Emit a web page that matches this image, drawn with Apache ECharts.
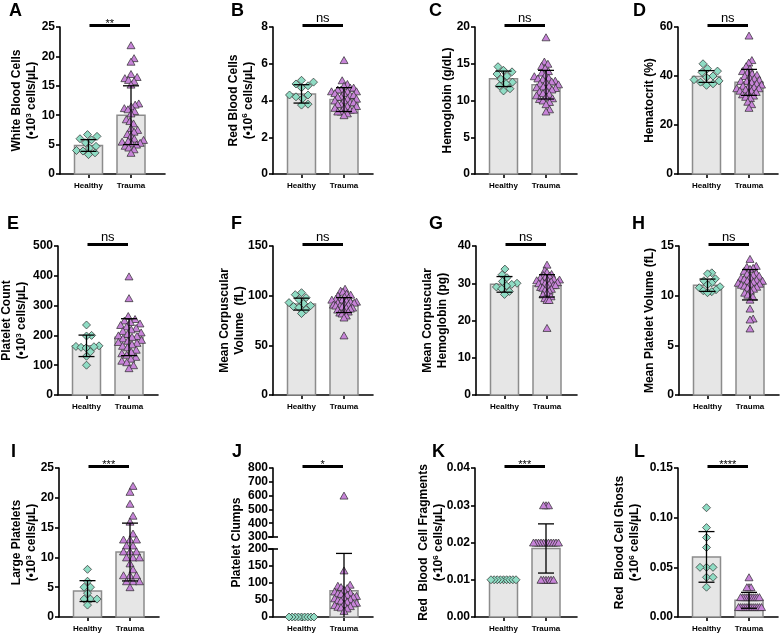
<!DOCTYPE html>
<html>
<head>
<meta charset="utf-8">
<script src="https://cdn.jsdelivr.net/npm/echarts@6/dist/echarts.min.js"></script>
<style>html,body{margin:0;padding:0;background:#fff}#main{width:781px;height:637px}</style>
</head>
<body>
<div id="main"></div>
<script>
var groups = ['Healthy', 'Trauma'];

// A white blood cells
var wbcHealthy = [6.7, 6.4, 6.0, 5.8, 5.3, 4.7, 4.4, 4.0, 3.9, 3.6, 3.3];
var wbcTrauma = [21.9, 19.7, 19.1, 17.0, 16.5, 16.3, 16.0, 15.8, 15.2, 12.0, 11.8, 11.5, 11.2, 11.0, 10.7, 10.3, 9.3, 9.0, 8.6, 7.8, 7.5, 7.2, 6.8, 6.5, 6.0, 5.8, 5.6, 5.5, 5.3, 5.2, 5.0, 4.8, 4.5, 4.2, 3.6];
var wbcMean = [4.85, 10.0];
var wbcSd = [1.0, 5.0];
var wbcAxis = [0, 25, 5];

// B red blood cells
var rbcHealthy = [5.1, 5.0, 4.9, 4.8, 4.7, 4.3, 4.3, 4.2, 4.1, 3.8, 3.75];
var rbcTrauma = [6.2, 5.1, 4.9, 4.8, 4.7, 4.7, 4.6, 4.6, 4.5, 4.5, 4.5, 4.4, 4.4, 4.3, 4.3, 4.2, 4.2, 4.1, 4.1, 4.0, 4.0, 3.9, 3.9, 3.8, 3.8, 3.7, 3.7, 3.6, 3.6, 3.5, 3.5, 3.4, 3.4, 3.3, 3.2];
var rbcMean = [4.36, 4.05];
var rbcSd = [0.5, 0.65];
var rbcAxis = [0, 8, 2];

// C hemoglobin
var hgbHealthy = [14.6, 14.1, 13.9, 13.6, 13.3, 12.9, 12.5, 12.3, 12.0, 11.6, 11.3];
var hgbTrauma = [18.6, 15.3, 15.0, 14.7, 14.4, 14.0, 13.8, 13.5, 13.3, 13.1, 13.0, 12.9, 12.7, 12.6, 12.5, 12.3, 12.2, 12.0, 11.9, 11.8, 11.7, 11.5, 11.4, 11.2, 11.0, 10.9, 10.7, 10.5, 10.3, 10.2, 10.0, 9.8, 9.5, 8.8, 8.5];
var hgbMean = [12.95, 12.15];
var hgbSd = [1.05, 1.95];
var hgbAxis = [0, 20, 5];

// D hematocrit
var hctHealthy = [45, 43, 42, 41.5, 40, 39.5, 38.5, 38, 37.5, 36.8, 36.2];
var hctTrauma = [56.5, 46.5, 45.5, 44, 43, 42, 41.5, 41, 40.5, 40, 39.5, 39, 38.5, 38, 38, 37.5, 37, 36.5, 36, 36, 35.5, 35, 35, 34.5, 34, 34, 33.5, 33, 32.5, 32, 31.5, 31, 29.5, 28.5, 27];
var hctMean = [39.8, 37.4];
var hctSd = [2.4, 5.3];
var hctAxis = [0, 60, 20];

// E platelet count
var pltHealthy = [235, 200, 198, 165, 163, 162, 160, 158, 145, 130, 100];
var pltTrauma = [398, 325, 265, 255, 250, 245, 240, 235, 230, 225, 220, 215, 210, 205, 200, 198, 195, 190, 185, 182, 178, 175, 170, 165, 160, 152, 145, 140, 135, 128, 122, 115, 110, 100, 90];
var pltMean = [165, 194];
var pltSd = [36, 62];
var pltAxis = [0, 500, 100];

// F mean corpuscular volume
var mcvHealthy = [103, 101, 98, 96, 93, 92, 90, 89, 88, 86, 82];
var mcvTrauma = [107, 105, 104, 102, 101, 100, 99, 98, 97, 97, 96, 96, 95, 94, 94, 93, 93, 92, 91, 91, 90, 90, 89, 88, 88, 87, 86, 85, 84, 83, 82, 80, 78, 60];
var mcvMean = [91.5, 90.5];
var mcvSd = [6, 7.5];
var mcvAxis = [0, 150, 50];

// G mean corpuscular hemoglobin
var mchHealthy = [33.8, 32.3, 31.5, 30.5, 30.0, 29.7, 29.3, 29.0, 28.5, 27.8, 27.0];
var mchTrauma = [35, 33.5, 33, 32.5, 32.2, 32, 31.7, 31.5, 31.2, 31, 31, 30.8, 30.5, 30.5, 30.3, 30, 30, 29.8, 29.5, 29.5, 29.3, 29, 28.8, 28.5, 28.2, 28, 27.5, 27, 26.5, 26, 25.5, 25.5, 18];
var mchMean = [29.7, 29.3];
var mchSd = [2.1, 3.0];
var mchAxis = [0, 40, 10];

// H mean platelet volume
var mpvHealthy = [12.3, 12.2, 11.7, 11.5, 11.3, 11.1, 10.9, 10.8, 10.6, 10.5, 10.4, 10.3];
var mpvTrauma = [13.7, 13.0, 12.9, 12.8, 12.7, 12.5, 12.3, 12.2, 12.1, 12.0, 11.9, 11.8, 11.7, 11.6, 11.5, 11.5, 11.4, 11.3, 11.2, 11.2, 11.1, 11.0, 10.9, 10.8, 10.7, 10.5, 10.3, 10.1, 9.9, 9.6, 8.7, 7.7, 7.6, 6.7];
var mpvMean = [11.05, 11.1];
var mpvSd = [0.62, 1.53];
var mpvAxis = [0, 15, 5];

// I large platelets
var lpHealthy = [8, 6, 5, 5, 4, 3, 3, 3, 2];
var lpTrauma = [22, 21, 19, 17, 16, 14, 13, 13, 13, 12, 12, 11, 11, 11, 10, 10, 10, 9, 8, 7, 7, 7, 6, 6, 6, 5];
var lpMean = [4.35, 10.9];
var lpSd = [1.75, 4.85];
var lpAxis = [0, 25, 5];

// J platelet clumps (broken axis)
var clumpHealthy = [0, 0, 0, 0, 0, 0, 0, 0, 0];
var clumpTrauma = [600, 137, 95, 92, 88, 85, 80, 75, 72, 70, 68, 65, 62, 60, 58, 55, 52, 50, 48, 45, 42, 40, 38, 35, 32, 30, 28, 25, 18];
var clumpMean = [0, 77];
var clumpSd = [0, 110];
var clumpAxisLow = [0, 200, 50];
var clumpAxisHigh = [300, 800, 100];

// K red blood cell fragments
var fragHealthy = [0.01, 0.01, 0.01, 0.01, 0.01, 0.01, 0.01, 0.01, 0.01];
var fragTrauma = [0.03, 0.03, 0.03, 0.02, 0.02, 0.02, 0.02, 0.02, 0.02, 0.02, 0.02, 0.02, 0.02, 0.02, 0.01, 0.01, 0.01, 0.01, 0.01, 0.01];
var fragMean = [0.01, 0.0184];
var fragSd = [0, 0.0066];
var fragAxis = [0, 0.04, 0.01];

// L red blood cell ghosts
var ghostHealthy = [0.11, 0.09, 0.08, 0.07, 0.05, 0.05, 0.05, 0.04, 0.04, 0.03];
var ghostTrauma = [0.04, 0.03, 0.03, 0.03, 0.02, 0.02, 0.02, 0.02, 0.02, 0.02, 0.02, 0.02, 0.02, 0.02, 0.01, 0.01, 0.01, 0.01, 0.01, 0.01, 0.01, 0.01, 0.01, 0.01, 0.01, 0.01];
var ghostMean = [0.0605, 0.0168];
var ghostSd = [0.0255, 0.008];
var ghostAxis = [0, 0.15, 0.05];

var FONT = 'Liberation Sans';
var GAP = 42.5, C0 = 28.5, BARW = 28, CAP = 8, LIM = 12.5;
var HCOL = '#8fdcc4', TCOL = '#c784d8';

var option = {animation: false, backgroundColor: '#fff', grid: [], xAxis: [], yAxis: [], series: [], graphic: []};

function units(e) { return '\n{t|(•10}{s|' + e + '}{t| cells/µL)}'; }

// simple beeswarm: horizontal pixel offsets so dots don't pile up
function swarm(vals, ppu) {
  var d = 6.5, step = 0.5, placed = [], out = [];
  var order = vals.map(function(v, i) { return i; }).sort(function(a, b) { return vals[a] - vals[b]; });
  order.forEach(function(i) {
    var y = vals[i] * ppu, x = 0;
    for (var k = 0; k < 600; k++) {
      x = (k % 2 ? 1 : -1) * Math.ceil(k / 2) * step;
      var ok = placed.every(function(p) { var dx = p[0] - x, dy = p[1] - y; return dx * dx + dy * dy >= d * d; });
      if (ok) break;
    }
    placed.push([x, y]);
    out[i] = x;
  });
  var m = Math.max.apply(null, out.map(Math.abs));
  var f = m > LIM ? LIM / m : 1;
  return out.map(function(x) { return x * f; });
}

function addGrid(left, top, width, height) {
  option.grid.push({left: left, top: top, width: width, height: height, outerBoundsMode: 'none'});
  return option.grid.length - 1;
}

function addX(gi, width, show) {
  var ls = {color: '#000', width: 1.6};
  option.xAxis.push({
    type: 'value', gridIndex: gi, min: -C0 / GAP, max: (width - C0) / GAP,
    axisLine: {show: show, onZero: false, lineStyle: ls},
    axisTick: {show: show, length: 4, customValues: [0, 1], lineStyle: ls},
    axisLabel: {show: show, customValues: [0, 1], margin: 8, color: '#000', fontFamily: FONT, fontWeight: 'bold', fontSize: 8,
      formatter: function(v) { return groups[Math.round(v)]; }},
    splitLine: {show: false}
  });
}

function addY(gi, ax, dec, name, gap, show) {
  var ls = {color: '#000', width: 1.6};
  option.yAxis.push({
    type: 'value', gridIndex: gi, min: ax[0], max: ax[1], interval: ax[2],
    axisLine: {show: show, onZero: false, lineStyle: ls},
    axisTick: {show: show, length: 4, lineStyle: ls},
    axisLabel: {show: show, margin: 5, color: '#000', fontFamily: FONT, fontWeight: 'bold', fontSize: 12,
      formatter: function(v) { return v.toFixed(dec); }},
    splitLine: {show: false},
    name: name, nameLocation: 'middle', nameGap: gap, nameRotate: 90, nameMoveOverlap: false,
    nameTextStyle: {rich: {
      t: {fontFamily: FONT, fontSize: 12, fontWeight: 'bold', color: '#000', lineHeight: 15},
      s: {fontFamily: FONT, fontSize: 8, fontWeight: 'bold', color: '#000', lineHeight: 9, verticalAlign: 'top'}
    }}
  });
}

function addBars(gi, mean) {
  option.series.push({
    type: 'custom', xAxisIndex: gi, yAxisIndex: gi, z: 1,
    data: mean.map(function(m, i) { return [i, m]; }),
    renderItem: function(params, api) {
      var top = api.coord([api.value(0), api.value(1)]);
      var base = api.coord([api.value(0), 0]);
      return {type: 'rect', shape: {x: top[0] - BARW / 2, y: top[1], width: BARW, height: base[1] - top[1]},
        style: {fill: '#e6e6e6', stroke: '#8c8c8c', lineWidth: 1.5}};
    }
  });
}

function addDots(gi, vals, cat, ppu) {
  var off = swarm(vals, ppu);
  option.series.push({
    type: 'scatter', xAxisIndex: gi, yAxisIndex: gi, z: 3,
    symbol: cat ? 'triangle' : 'diamond', symbolSize: cat ? [8, 7] : 8,
    itemStyle: {color: cat ? TCOL : HCOL, borderColor: '#2a2a2a', borderWidth: 0.7, opacity: 1},
    data: vals.map(function(v, i) { return [cat + off[i] / GAP, v]; })
  });
}

function addErr(gi, mean, sd, lo) {
  option.series.push({
    type: 'custom', xAxisIndex: gi, yAxisIndex: gi, z: 4,
    data: mean.map(function(m, i) { return [i, m, sd[i]]; }),
    renderItem: function(params, api) {
      var x = api.value(0), m = api.value(1), s = api.value(2);
      if (!s) return;
      var st = {stroke: '#000', lineWidth: 1.3};
      var a = api.coord([x, m + s]), b = api.coord([x, Math.max(m - s, lo)]);
      var kids = [
        {type: 'line', shape: {x1: a[0], y1: a[1], x2: b[0], y2: b[1]}, style: st},
        {type: 'line', shape: {x1: a[0] - CAP, y1: a[1], x2: a[0] + CAP, y2: a[1]}, style: st}
      ];
      if (m - s >= lo) kids.push({type: 'line', shape: {x1: b[0] - CAP, y1: b[1], x2: b[0] + CAP, y2: b[1]}, style: st});
      return {type: 'group', children: kids};
    }
  });
}

function addSig(gi, yTop, sig) {
  option.series.push({
    type: 'custom', xAxisIndex: gi, yAxisIndex: gi, z: 5, clip: false,
    data: [[0.5, yTop]],
    renderItem: function(params, api) {
      var a = api.coord([0, api.value(1)]), b = api.coord([1, api.value(1)]);
      var y = a[1] - 1.5, star = sig.charAt(0) === '*';
      return {type: 'group', children: [
        {type: 'line', shape: {x1: a[0] + 1, y1: y, x2: b[0] - 1, y2: y}, style: {stroke: '#000', lineWidth: 2.8}},
        {type: 'text', x: (a[0] + b[0]) / 2, y: star ? y + 4 : y - 0.5,
          style: {text: sig, fill: '#000', fontFamily: FONT, fontSize: star ? 11 : 13, align: 'center', verticalAlign: 'bottom'}}
      ]};
    }
  });
}

// short stroke across the y axis where it is broken
function addBreak(gi, yVal) {
  option.series.push({
    type: 'custom', xAxisIndex: gi, yAxisIndex: gi, z: 5, clip: false,
    data: [[-C0 / GAP, yVal]],
    renderItem: function(params, api) {
      var p = api.coord([api.value(0), api.value(1)]);
      return {type: 'line', shape: {x1: p[0] - 5, y1: p[1], x2: p[0] + 5, y2: p[1]}, style: {stroke: '#000', lineWidth: 1.6}};
    }
  });
}

function addTag(tag, x, y) {
  option.graphic.push({type: 'text', left: x, top: y,
    style: {text: tag, fill: '#000', fontFamily: FONT, fontWeight: 'bold', fontSize: 18}});
}

// ordinary panel
function panel(p) {
  var gi = addGrid(p.left, p.top, p.width, p.height);
  var ppu = p.height / (p.axis[1] - p.axis[0]);
  addX(gi, p.width, true);
  addY(gi, p.axis, p.dec || 0, p.name, p.gap, true);
  addBars(gi, p.mean);
  addDots(gi, p.h, 0, ppu);
  addDots(gi, p.t, 1, ppu);
  addErr(gi, p.mean, p.sd, p.axis[0]);
  addSig(gi, p.axis[1], p.sig);
  addTag(p.tag, p.tx, p.ty);
}

var R1 = [27, 147], R2 = [246, 149], R3 = [468, 149];

panel({tag: 'A', tx: 9, ty: 2, left: 60, top: R1[0], height: R1[1], width: 105, axis: wbcAxis, h: wbcHealthy, t: wbcTrauma, mean: wbcMean, sd: wbcSd, sig: '**', gap: 20.5, name: '{t|White Blood Cells}' + units(3)});
panel({tag: 'B', tx: 231, ty: 2, left: 273, top: R1[0], height: R1[1], width: 100, axis: rbcAxis, h: rbcHealthy, t: rbcTrauma, mean: rbcMean, sd: rbcSd, sig: 'ns', gap: 17, name: '{t|Red Blood Cells}' + units(6)});
panel({tag: 'C', tx: 429, ty: 2, left: 475, top: R1[0], height: R1[1], width: 102, axis: hgbAxis, h: hgbHealthy, t: hgbTrauma, mean: hgbMean, sd: hgbSd, sig: 'ns', gap: 19.5, name: '{t|Hemoglobin (g/dL)}'});
panel({tag: 'D', tx: 633, ty: 2, left: 678, top: R1[0], height: R1[1], width: 100, axis: hctAxis, h: hctHealthy, t: hctTrauma, mean: hctMean, sd: hctSd, sig: 'ns', gap: 20.5, name: '{t|Hematocrit (%)}'});

panel({tag: 'E', tx: 7, ty: 215, left: 58, top: R2[0], height: R2[1], width: 100, axis: pltAxis, h: pltHealthy, t: pltTrauma, mean: pltMean, sd: pltSd, sig: 'ns', gap: 28.5, name: '{t|Platelet Count}' + units(3)});
panel({tag: 'F', tx: 231, ty: 215, left: 273, top: R2[0], height: R2[1], width: 100, axis: mcvAxis, h: mcvHealthy, t: mcvTrauma, mean: mcvMean, sd: mcvSd, sig: 'ns', gap: 25.5, name: '{t|Mean Corpuscular}\n{t|Volume  (fL)}'});
panel({tag: 'G', tx: 429, ty: 215, left: 476, top: R2[0], height: R2[1], width: 101, axis: mchAxis, h: mchHealthy, t: mchTrauma, mean: mchMean, sd: mchSd, sig: 'ns', gap: 25.5, name: '{t|Mean Corpuscular}\n{t|Hemoglobin (pg)}'});
panel({tag: 'H', tx: 632, ty: 215, left: 679, top: R2[0], height: R2[1], width: 100, axis: mpvAxis, h: mpvHealthy, t: mpvTrauma, mean: mpvMean, sd: mpvSd, sig: 'ns', gap: 21.5, name: '{t|Mean Platelet Volume (fL)}'});

panel({tag: 'I', tx: 11, ty: 443, left: 59, top: R3[0], height: R3[1], width: 100, axis: lpAxis, h: lpHealthy, t: lpTrauma, mean: lpMean, sd: lpSd, sig: '***', gap: 19.5, name: '{t|Large Platelets}' + units(3)});

// J: broken y axis, two grids plus one that only carries the axis name
(function() {
  var low = addGrid(273, 549, 100, 68);
  addX(low, 100, true);
  addY(low, clumpAxisLow, 0, '', 0, true);
  addBars(low, clumpMean);
  var ppuLow = 68 / (clumpAxisLow[1] - clumpAxisLow[0]);
  addDots(low, clumpHealthy, 0, ppuLow);
  addDots(low, clumpTrauma.filter(function(v) { return v <= clumpAxisLow[1]; }), 1, ppuLow);
  addErr(low, clumpMean, clumpSd, clumpAxisLow[0]);
  addBreak(low, clumpAxisLow[1]);

  var high = addGrid(273, 468, 100, 69);
  addX(high, 100, false);
  addY(high, clumpAxisHigh, 0, '', 0, true);
  addDots(high, clumpTrauma.filter(function(v) { return v >= clumpAxisHigh[0]; }), 1, 69 / (clumpAxisHigh[1] - clumpAxisHigh[0]));
  addSig(high, clumpAxisHigh[1], '*');
  addBreak(high, clumpAxisHigh[0]);

  var nm = addGrid(273, 468, 100, 149);
  addX(nm, 100, false);
  addY(nm, [0, 1, 1], 0, '{t|Platelet Clumps}', 28.8, false);
  addTag('J', 232, 443);
})();

panel({tag: 'K', tx: 432, ty: 443, left: 475, top: R3[0], height: R3[1], width: 102, axis: fragAxis, dec: 2, h: fragHealthy, t: fragTrauma, mean: fragMean, sd: fragSd, sig: '***', gap: 28.5, name: '{t|Red  Blood  Cell Fragments}' + units(6)});
panel({tag: 'L', tx: 634, ty: 443, left: 678, top: R3[0], height: R3[1], width: 100, axis: ghostAxis, dec: 2, h: ghostHealthy, t: ghostTrauma, mean: ghostMean, sd: ghostSd, sig: '****', gap: 35.5, name: '{t|Red  Blood Cell Ghosts}' + units(6)});

var myChart = echarts.init(document.getElementById('main'), null, {renderer: 'canvas'});
myChart.setOption(option);
</script>
</body>
</html>
